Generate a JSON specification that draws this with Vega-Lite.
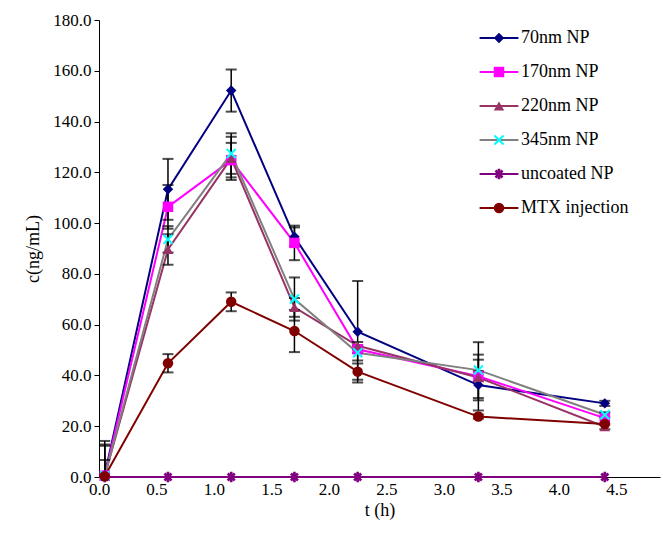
{
  "$schema": "https://vega.github.io/schema/vega-lite/v6.json",
  "autosize": "none",
  "width": 561,
  "height": 457,
  "padding": {"left": 99, "top": 20, "right": 3, "bottom": 56},
  "background": "white",
  "config": {
    "view": {"stroke": null},
    "axis": {"grid": false, "labelFont": "Liberation Serif, Times New Roman, serif", "labelFontSize": 17, "labelColor": "black", "titleFont": "Liberation Serif, Times New Roman, serif", "titleFontSize": 18, "titleFontWeight": "normal", "titleColor": "black", "domainColor": "black", "tickColor": "black", "domainWidth": 1}
  },
  "datasets": {
    "pts": [
      {"series": "70nm NP", "t": 0.05, "c": 1.0},
      {"series": "70nm NP", "t": 0.6, "c": 113.3},
      {"series": "70nm NP", "t": 1.15, "c": 152.2},
      {"series": "70nm NP", "t": 1.7, "c": 94.6},
      {"series": "70nm NP", "t": 2.25, "c": 57.2},
      {"series": "70nm NP", "t": 3.3, "c": 36.2},
      {"series": "70nm NP", "t": 4.4, "c": 29.0},
      {"series": "170nm NP", "t": 0.05, "c": 0.5},
      {"series": "170nm NP", "t": 0.6, "c": 106.4},
      {"series": "170nm NP", "t": 1.15, "c": 124.8},
      {"series": "170nm NP", "t": 1.7, "c": 92.2},
      {"series": "170nm NP", "t": 2.25, "c": 50.3},
      {"series": "170nm NP", "t": 3.3, "c": 39.7},
      {"series": "170nm NP", "t": 4.4, "c": 23.2},
      {"series": "220nm NP", "t": 0.05, "c": 0.5},
      {"series": "220nm NP", "t": 0.6, "c": 89.6},
      {"series": "220nm NP", "t": 1.15, "c": 125.5},
      {"series": "220nm NP", "t": 1.7, "c": 66.8},
      {"series": "220nm NP", "t": 2.25, "c": 51.7},
      {"series": "220nm NP", "t": 3.3, "c": 39.2},
      {"series": "220nm NP", "t": 4.4, "c": 19.8},
      {"series": "345nm NP", "t": 0.05, "c": 0.5},
      {"series": "345nm NP", "t": 0.6, "c": 93.6},
      {"series": "345nm NP", "t": 1.15, "c": 127.4},
      {"series": "345nm NP", "t": 1.7, "c": 70.1},
      {"series": "345nm NP", "t": 2.25, "c": 48.9},
      {"series": "345nm NP", "t": 3.3, "c": 42.1},
      {"series": "345nm NP", "t": 4.4, "c": 24.5},
      {"series": "uncoated NP", "t": 0.05, "c": 0},
      {"series": "uncoated NP", "t": 0.6, "c": 0},
      {"series": "uncoated NP", "t": 1.15, "c": 0},
      {"series": "uncoated NP", "t": 1.7, "c": 0},
      {"series": "uncoated NP", "t": 2.25, "c": 0},
      {"series": "uncoated NP", "t": 3.3, "c": 0},
      {"series": "uncoated NP", "t": 4.4, "c": 0},
      {"series": "MTX injection", "t": 0.05, "c": 0.3},
      {"series": "MTX injection", "t": 0.6, "c": 44.8},
      {"series": "MTX injection", "t": 1.15, "c": 69.0},
      {"series": "MTX injection", "t": 1.7, "c": 57.5},
      {"series": "MTX injection", "t": 2.25, "c": 41.5},
      {"series": "MTX injection", "t": 3.3, "c": 23.8},
      {"series": "MTX injection", "t": 4.4, "c": 20.9}
    ],
    "err": [
      {"series": "70nm NP", "t": 0.05, "lo": -12.3, "hi": 14.2},
      {"series": "170nm NP", "t": 0.05, "lo": -11.8, "hi": 12.8},
      {"series": "220nm NP", "t": 0.05, "lo": -11.3, "hi": 12.3},
      {"series": "345nm NP", "t": 0.05, "lo": -5.7, "hi": 6.7},
      {"series": "70nm NP", "t": 0.6, "lo": 101.3, "hi": 125.3},
      {"series": "170nm NP", "t": 0.6, "lo": 97.8, "hi": 115.0},
      {"series": "345nm NP", "t": 0.6, "lo": 88.4, "hi": 98.8},
      {"series": "220nm NP", "t": 0.6, "lo": 83.6, "hi": 95.6},
      {"series": "MTX injection", "t": 0.6, "lo": 41.2, "hi": 48.4},
      {"series": "70nm NP", "t": 1.15, "lo": 143.9, "hi": 160.5},
      {"series": "170nm NP", "t": 1.15, "lo": 118.0, "hi": 131.6},
      {"series": "345nm NP", "t": 1.15, "lo": 119.4, "hi": 135.4},
      {"series": "220nm NP", "t": 1.15, "lo": 117.0, "hi": 134.0},
      {"series": "MTX injection", "t": 1.15, "lo": 65.3, "hi": 72.7},
      {"series": "70nm NP", "t": 1.7, "lo": 90.9, "hi": 98.3},
      {"series": "170nm NP", "t": 1.7, "lo": 85.4, "hi": 99.0},
      {"series": "345nm NP", "t": 1.7, "lo": 61.6, "hi": 78.6},
      {"series": "220nm NP", "t": 1.7, "lo": 63.1, "hi": 70.5},
      {"series": "MTX injection", "t": 1.7, "lo": 49.2, "hi": 65.8},
      {"series": "70nm NP", "t": 2.25, "lo": 37.2, "hi": 77.2},
      {"series": "170nm NP", "t": 2.25, "lo": 48.8, "hi": 51.8},
      {"series": "345nm NP", "t": 2.25, "lo": 45.9, "hi": 51.9},
      {"series": "220nm NP", "t": 2.25, "lo": 50.2, "hi": 53.2},
      {"series": "MTX injection", "t": 2.25, "lo": 38.3, "hi": 44.7},
      {"series": "70nm NP", "t": 3.3, "lo": 26.2, "hi": 46.2},
      {"series": "345nm NP", "t": 3.3, "lo": 31.1, "hi": 53.1},
      {"series": "220nm NP", "t": 3.3, "lo": 30.2, "hi": 48.2},
      {"series": "170nm NP", "t": 3.3, "lo": 37.7, "hi": 41.7},
      {"series": "MTX injection", "t": 3.3, "lo": 23.0, "hi": 24.6},
      {"series": "70nm NP", "t": 4.4, "lo": 28.0, "hi": 30.0},
      {"series": "345nm NP", "t": 4.4, "lo": 23.5, "hi": 25.5},
      {"series": "220nm NP", "t": 4.4, "lo": 18.8, "hi": 20.8}
    ]
  },
  "encoding": {
    "x": {"field": "t", "type": "quantitative", "scale": {"domain": [0, 4.88], "nice": false, "zero": false},
      "axis": {"title": "t (h)", "values": [0, 0.5, 1, 1.5, 2, 2.5, 3, 3.5, 4, 4.5], "format": ".1f", "ticks": false, "labelPadding": 4, "titlePadding": 4, "labelFlush": false}}
  },
  "layer": [
    {
      "data": {"name": "pts"},
      "mark": {"type": "line", "strokeWidth": 2},
      "encoding": {
        "y": {"field": "c", "type": "quantitative", "title": "c(ng/mL)", "scale": {"domain": [0, 180], "nice": false},
          "axis": {"title": "c(ng/mL)", "values": [0, 20, 40, 60, 80, 100, 120, 140, 160, 180], "format": ".1f", "tickSize": 5, "labelPadding": 3, "titlePadding": 10}},
        "stroke": {"field": "series", "type": "nominal",
          "sort": ["70nm NP", "170nm NP", "220nm NP", "345nm NP", "uncoated NP", "MTX injection"],
          "scale": {"range": ["#000080", "#FF00FF", "#993366", "#808080", "#800080", "#800000"]},
          "legend": {"title": null, "orient": "none", "legendX": 391, "legendY": 9, "padding": 0, "zindex": 1,
            "symbolType": "M-3.7,0H3.7", "symbolSize": 110, "symbolStrokeWidth": 2,
            "labelFont": "Liberation Serif, Times New Roman, serif", "labelFontSize": 18, "labelFontWeight": "normal", "labelColor": "black", "labelOffset": 13, "rowPadding": 16}}
      }
    },
    {
      "data": {"name": "err"},
      "mark": {"type": "errorbar", "clip": true, "ticks": {"size": 11, "thickness": 2, "color": "black"}, "rule": {"strokeWidth": 1.5, "color": "black"}},
      "encoding": {
        "y": {"field": "lo", "type": "quantitative", "title": "c(ng/mL)"},
        "y2": {"field": "hi"}
      }
    },
    {
      "data": {"name": "pts"},
      "mark": {"type": "point", "filled": true, "opacity": 1, "size": 110},
      "encoding": {
        "y": {"field": "c", "type": "quantitative", "title": "c(ng/mL)"},
        "fill": {"field": "series", "type": "nominal",
          "scale": {"domain": ["70nm NP", "170nm NP", "220nm NP", "345nm NP", "uncoated NP", "MTX injection"],
                    "range": ["#000080", "#FF00FF", "#993366", "#00FFFF", "#800080", "#800000"]},
          "legend": {"title": null, "orient": "none", "legendX": 391, "legendY": 9, "padding": 0, "zindex": 2,
            "symbolSize": 110, "symbolStrokeWidth": 0, "labelOpacity": 0,
            "labelFont": "Liberation Serif, Times New Roman, serif", "labelFontSize": 18, "labelFontWeight": "normal", "labelColor": "black", "labelOffset": 13, "rowPadding": 16}},
        "shape": {"field": "series", "type": "nominal",
          "scale": {"domain": ["70nm NP", "170nm NP", "220nm NP", "345nm NP", "uncoated NP", "MTX injection"],
            "range": ["diamond", "square", "triangle-up",
            "M-1,-0.72L-0.72,-1L0,-0.28L0.72,-1L1,-0.72L0.28,0L1,0.72L0.72,1L0,0.28L-0.72,1L-1,0.72L-0.28,0Z",
            "M-0.25,-1H0.25V1H-0.25Z M0.495,0.849L-0.849,-0.495L-0.495,-0.849L0.849,0.495Z M0.849,-0.495L-0.495,0.849L-0.849,0.495L0.495,-0.849Z",
            "circle"]},
          "legend": {"title": null, "orient": "none", "legendX": 391, "legendY": 9, "padding": 0, "zindex": 2,
            "symbolSize": 110, "symbolStrokeWidth": 0, "labelOpacity": 0,
            "labelFont": "Liberation Serif, Times New Roman, serif", "labelFontSize": 18, "labelFontWeight": "normal", "labelColor": "black", "labelOffset": 13, "rowPadding": 16}}
      }
    }
  ]
}
